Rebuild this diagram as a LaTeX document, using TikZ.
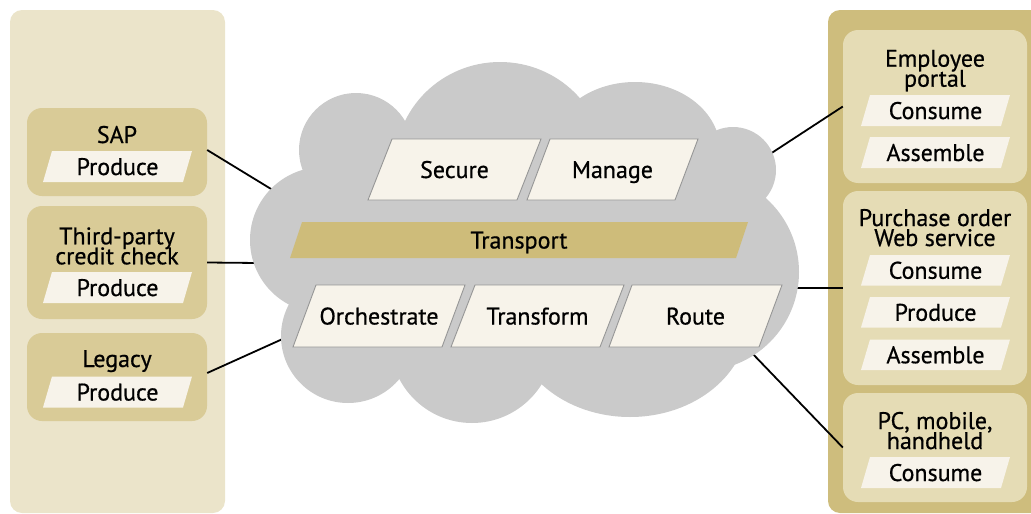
\documentclass[tikz,border=0pt]{standalone}
\usepackage{fontspec}
\setmainfont{PT Sans}[FakeBold=0.6]
\definecolor{leftbg}{RGB}{235,228,202}
\definecolor{leftbox}{RGB}{217,203,151}
\definecolor{rightbg}{RGB}{206,189,125}
\definecolor{rightbox}{RGB}{229,220,181}
\definecolor{paper}{RGB}{247,243,234}
\definecolor{cloudc}{RGB}{202,202,202}
\definecolor{transc}{RGB}{206,188,122}
\definecolor{pborder}{RGB}{150,150,150}
\newcommand{\tightlines}{\lineskiplimit=-30pt\relax\lineskip=0pt\relax}
\newcommand{\pgbox}[8]{%
  \path[#1] (#3,#4+#6) -- ++(#5,0) -- ++(#7,-#6) -- ++(-#5,0) -- cycle;
  \node[lbl, anchor=base] (#2) at ({#3+(#5+#7)/2},{#4+#6/2+8.5}) {#8};}
\begin{document}
\begin{tikzpicture}[x=1pt,y=-1pt,
  lbl/.style={font=\fontsize{24}{20}\selectfont\tightlines, inner sep=0pt, text=black},
  title/.style={lbl, anchor=base, align=center},
  panelL/.style={fill=leftbg, rounded corners=12pt, inner sep=0pt, minimum width=215pt, minimum height=503pt},
  panelR/.style={fill=rightbg, rounded corners=12pt, inner sep=0pt, minimum width=217pt, minimum height=503pt},
  boxL/.style={fill=leftbox, rounded corners=15pt, inner sep=0pt, minimum width=180pt},
  boxR/.style={fill=rightbox, rounded corners=15pt, inner sep=0pt, minimum width=184pt},
  sidep/.style={fill=paper},
  cloudp/.style={fill=paper, draw=pborder, line width=0.9pt},
  transp/.style={fill=transc},
  conn/.style={line width=1.8pt, black},
  cloudfill/.style={fill=cloudc}]
\useasboundingbox (0,0) rectangle (1031,514);
\clip (0,0) rectangle (1031,514);

% side panels
\node[panelL] (lpanel) at (117.5,261.5) {};
\node[panelR] (rpanel) at (936.5,261.5) {};

% left boxes
\node[boxL, minimum height=88pt] (sap) at (117,152) {};
\node[boxL, minimum height=113pt] (third) at (117,262.5) {};
\node[boxL, minimum height=88pt] (legacy) at (117,377) {};
\node[title] (sapt) at (117,143) {SAP};
\node[title] (thirdt) at (117,264.3) {Third-party\\credit check};
\node[title] (legacyt) at (117,367) {Legacy};
\pgbox{sidep}{sapp}{43}{151}{140}{31}{9}{Produce}
\pgbox{sidep}{thirdp}{43}{272}{140}{31}{9}{Produce}
\pgbox{sidep}{legacyp}{43}{376.5}{140}{31}{9}{Produce}

% right boxes
\node[boxR, minimum height=153pt] (emp) at (935,106.5) {};
\node[boxR, minimum height=194pt] (po) at (935,288) {};
\node[boxR, minimum height=109pt] (pc) at (935,447.5) {};
\node[title] (empt) at (935,86.7) {Employee\\portal};
\node[title] (pot) at (935,246) {Purchase order\\Web service};
\node[title] (pct) at (935,449) {PC, mobile,\\handheld};
\pgbox{sidep}{empc}{861}{95}{140}{31}{9}{Consume}
\pgbox{sidep}{empa}{861}{137}{140}{31}{9}{Assemble}
\pgbox{sidep}{poc}{861}{255}{140}{30.5}{9}{Consume}
\pgbox{sidep}{pop}{861}{297}{140}{30.5}{9}{Produce}
\pgbox{sidep}{poa}{861}{339.5}{140}{30.5}{9}{Assemble}
\pgbox{sidep}{pcc}{861}{457}{140}{31}{9}{Consume}

% connector ends inside the cloud
\coordinate (csap) at (276,192);
\coordinate (cthird) at (258,263);
\coordinate (clegacy) at (287,337);
\coordinate (cemp) at (767,156);
\coordinate (cpo) at (793,288);
\coordinate (cpc) at (750,351);
\draw[conn] ([yshift=2pt]sap.east) -- (csap);
\draw[conn] (third.east) -- (cthird);
\draw[conn] ([yshift=4pt]legacy.east) -- (clegacy);
\draw[conn] (emp.west) -- (cemp);
\draw[conn] (po.west) -- (cpo);
\draw[conn] (pc.west) -- (cpc);

% cloud
\fill[cloudfill] (356,150) circle[radius=57pt];
\fill[cloudfill] (500,165) ellipse[x radius=105pt, y radius=103pt];
\fill[cloudfill] (635,150) ellipse[x radius=85pt, y radius=68pt];
\fill[cloudfill] (733,170) circle[radius=43pt];
\fill[cloudfill] (700,272) circle[radius=99pt];
\fill[cloudfill] (630,320) ellipse[x radius=118pt, y radius=97pt];
\fill[cloudfill] (472,341) circle[radius=82pt];
\fill[cloudfill] (348,336) circle[radius=67pt];
\fill[cloudfill] (323,240) circle[radius=73pt];
\fill[cloudfill] (356,150) -- (500,165) -- (635,150) -- (733,170) -- (700,272) -- (630,320) -- (472,341) -- (348,336) -- (323,240) -- cycle;

% cloud contents
\pgbox{cloudp}{secure}{368}{139}{149}{61}{24}{Secure}
\pgbox{cloudp}{manage}{527}{139}{148}{61}{23}{Manage}
\pgbox{transp}{transport}{290}{222}{446}{36}{12}{Transport}
\pgbox{cloudp}{orch}{293}{285}{149}{62}{23}{Orchestrate}
\pgbox{cloudp}{transf}{451}{285}{149}{62}{24}{Transform}
\pgbox{cloudp}{route}{609}{285}{150}{62}{23}{Route}
\end{tikzpicture}
\end{document}
